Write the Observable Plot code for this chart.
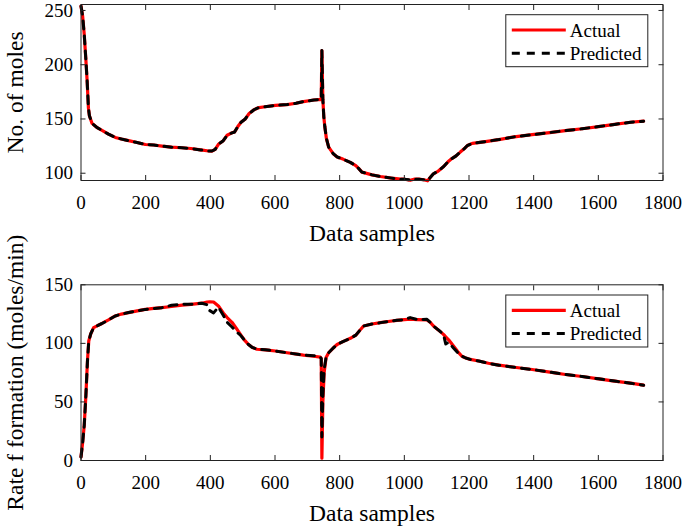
<!DOCTYPE html>
<html>
<head>
<meta charset="utf-8">
<script src="https://cdn.jsdelivr.net/npm/d3@7"></script>
<script src="https://cdn.jsdelivr.net/npm/@observablehq/plot@0.6"></script>
<style>
  body { margin: 0; background: #fff; }
  #chart { position: relative; width: 685px; height: 526px; font-family: "Liberation Serif", "Times New Roman", serif; }
  .panel { position: absolute; left: 0; }
  .panel svg { overflow: visible; }
</style>
</head>
<body>
<div id="chart"></div>
<script>
// ---------- DATA ----------
const xTicks = [0, 200, 400, 600, 800, 1000, 1200, 1400, 1600, 1800];
const seriesNames = ["Actual", "Predicted"];
const xLabel = "Data samples";

// Panel 1: No. of moles
const molesLabel = "No. of moles";
const molesTicks = [100, 150, 200, 250];
const molesX = [0, 5, 10, 15, 19, 23, 26, 34, 50, 65, 85, 106, 125, 147, 170, 199, 225, 250, 280, 312, 340, 370, 395, 405, 415, 426, 440, 452, 465, 475, 485, 495, 508, 520, 535, 550, 575, 601, 637, 665, 688, 720, 743, 745, 748, 751, 754, 759, 766, 780, 792, 810, 833, 850, 860, 869, 900, 926, 960, 988, 1000, 1018, 1030, 1045, 1060, 1072, 1080, 1090, 1105, 1121, 1135, 1147, 1160, 1173, 1185, 1195, 1210, 1235, 1292, 1340, 1395, 1450, 1498, 1550, 1601, 1650, 1700, 1740];
const molesActual = [254, 245, 228, 205, 185, 160, 153, 146, 142, 139.5, 136, 133, 131.5, 130, 128.5, 126.5, 126, 125, 124, 123.5, 122.8, 121.5, 120.5, 120.3, 122, 127, 130, 135, 137, 138, 143, 147, 150, 155, 158.5, 160.5, 161.5, 162.5, 163.3, 164.5, 166, 167.5, 168, 213, 168, 152, 143, 132, 124, 118, 115, 113, 110, 107, 104, 101, 98.5, 97, 95.5, 94.5, 94.5, 93.5, 94.5, 94.5, 94, 93, 96, 99.5, 102, 106, 110.5, 113.5, 116, 119.5, 122.5, 125.5, 127.5, 128.5, 131, 133.5, 135.5, 137.5, 139.3, 141, 143, 145, 147, 148];
const molesPredicted = [254, 245, 228, 205, 185, 160, 153, 146, 142, 139.5, 136, 133, 131.5, 130, 128.5, 126.5, 126, 125, 124, 123.5, 122.8, 121.5, 120.5, 120.5, 122, 127, 130, 135, 137, 138, 143, 147, 150, 155, 158.5, 160.5, 161.5, 162.5, 163.3, 164.5, 166, 167.5, 168, 213, 168, 152, 143, 132, 124, 118, 115, 113, 110, 107, 104, 101, 98.5, 97, 95.5, 94.5, 94.5, 93.8, 94.5, 94.5, 94, 93.5, 96, 99.5, 102, 106, 110.5, 113.5, 116, 119.5, 122.5, 125.5, 127.5, 128.5, 131, 133.5, 135.5, 137.5, 139.3, 141, 143, 145, 147, 148];

// Panel 2: Rate f formation
const rateLabel = "Rate f formation (moles/min)";
const rateTicks = [0, 50, 100, 150];
const rateX = [0, 5, 10, 15, 20, 24, 30, 39, 50, 65, 85, 106, 125, 147, 170, 199, 225, 250, 280, 312, 340, 374, 390, 398, 410, 425, 440, 452, 467, 480, 493, 505, 518, 530, 544, 570, 601, 637, 688, 720, 740, 743, 745, 748, 752, 758, 766, 780, 792, 810, 833, 850, 862, 874, 900, 926, 950, 977, 1000, 1018, 1040, 1070, 1080, 1090, 1105, 1121, 1128, 1137, 1152, 1165, 1178, 1190, 1204, 1230, 1260, 1292, 1340, 1395, 1450, 1498, 1550, 1601, 1650, 1700, 1740];
const rateActual = [3, 15, 30, 55, 85, 102, 108, 113.4, 115, 117, 120, 123.4, 125, 126.3, 127.5, 129, 129.8, 130.5, 131.5, 132.6, 133.3, 134.3, 135.3, 135.5, 135.3, 132, 126, 122, 118, 113, 107.7, 103, 99, 96.5, 95, 94.5, 93.5, 92, 90, 89, 88.3, 87, 2, 50, 75, 88, 92, 96, 99, 101.5, 104.3, 107, 111, 114.8, 116.5, 117.7, 118.7, 119.7, 120.2, 120.6, 120.3, 120, 118, 114.8, 111.5, 107.7, 105.5, 103, 97.7, 93, 89, 87.5, 86.3, 84.9, 83, 81.4, 79.6, 77.7, 75.5, 73.4, 71.7, 69.7, 67.8, 66, 64.3];
const ratePredicted = [3, 15, 30, 55, 85, 102, 108, 113.4, 115, 117, 120, 123.4, 125, 126.3, 127.5, 129, 129.8, 130.5, 132.5, 133.5, 133.3, 134.3, 133, 128, 126, 131, 124, 118, 114, 110, 107, 103, 99, 96.5, 95, 94.5, 93.5, 92, 90, 89.5, 88.5, 87, 20, 55, 78, 88, 92, 96, 99, 101.5, 104.3, 107, 111, 114.8, 116.5, 117.7, 118.7, 119.7, 120.2, 122, 120.3, 120.5, 118, 114.8, 111.5, 107.7, 99.5, 101, 96, 92, 89, 87.5, 86.3, 84.9, 83, 81.4, 79.6, 77.7, 75.5, 73.4, 71.7, 69.7, 67.8, 66, 64.3];

// ---------- DRAW ----------
const W = 685;
const fontFamily = '"Liberation Serif", "Times New Roman", serif';
const plainNumber = d => String(d);

function panel({xs, actual, predicted, yDomain, yTicks, yLabel, top, height, marginTop, marginBottom}) {
  const act = xs.map((x, i) => ({x, y: actual[i]}));
  const pred = xs.map((x, i) => ({x, y: predicted[i]}));
  const plot = Plot.plot({
    width: W,
    height,
    marginTop,
    marginBottom,
    marginLeft: 80.5,
    marginRight: 22.5,
    style: {fontFamily, fontSize: "19px", background: "transparent", color: "#000"},
    x: {domain: [0, 1800], ticks: xTicks},
    y: {domain: yDomain, ticks: yTicks},
    marks: [
      Plot.line(act, {x: "x", y: "y", stroke: "#ff0000", strokeWidth: 3.2}),
      Plot.line(pred, {x: "x", y: "y", stroke: "#000", strokeWidth: 3, strokeDasharray: "8,7"}),
      Plot.frame({stroke: "#222", strokeWidth: 1}),
      Plot.axisX({anchor: "bottom", ticks: xTicks, tickSize: -5, tickPadding: 19.5, tickFormat: plainNumber, label: null, stroke: "#222", fontSize: 19}),
      Plot.axisX({anchor: "top", ticks: xTicks, tickSize: -5, tickFormat: () => "", label: null, stroke: "#222"}),
      Plot.axisY({anchor: "left", ticks: yTicks, tickSize: -5, tickPadding: 13, tickFormat: plainNumber, label: null, stroke: "#222", fontSize: 19}),
      Plot.axisY({anchor: "right", ticks: yTicks, tickSize: -5, tickFormat: () => "", label: null, stroke: "#222"}),
      Plot.text([yLabel], {text: d => d, frameAnchor: "left", textAnchor: "middle", lineAnchor: "middle", rotate: -90, dx: -66, fontSize: 23.5}),
      Plot.text([xLabel], {text: d => d, frameAnchor: "bottom", lineAnchor: "top", dy: 44, fontSize: 23.5})
    ]
  });
  // legend box inside the top-right corner of the frame
  const svg = d3.select(plot);
  const frameRight = W - 22.5;
  const bx = frameRight - 14.7 - 142, by = marginTop + 10.7;
  const g = svg.append("g").attr("font-family", fontFamily).attr("font-size", 19).attr("text-anchor", "start");
  g.append("rect").attr("x", bx).attr("y", by).attr("width", 142).attr("height", 52)
    .attr("fill", "#fff").attr("stroke", "#222").attr("stroke-width", 1);
  const styles = [
    {stroke: "#ff0000", dash: null, w: 3.2},
    {stroke: "#000", dash: "8,7", w: 3}
  ];
  seriesNames.forEach((name, i) => {
    const cy = by + 15.3 + i * 23.2;
    g.append("line").attr("x1", bx + 6).attr("x2", bx + 60).attr("y1", cy).attr("y2", cy)
      .attr("stroke", styles[i].stroke).attr("stroke-width", styles[i].w)
      .attr("stroke-dasharray", styles[i].dash);
    g.append("text").attr("x", bx + 64).attr("y", cy).attr("dy", "0.35em")
      .attr("text-anchor", "start").attr("fill", "#000").text(name);
  });
  const div = document.createElement("div");
  div.className = "panel";
  div.style.top = top + "px";
  div.appendChild(plot);
  document.getElementById("chart").appendChild(div);
}

panel({xs: molesX, actual: molesActual, predicted: molesPredicted, yDomain: [93.3, 255.5], yTicks: molesTicks,
  yLabel: molesLabel, top: 0, height: 262, marginTop: 4, marginBottom: 82});
panel({xs: rateX, actual: rateActual, predicted: ratePredicted, yDomain: [0, 150], yTicks: rateTicks,
  yLabel: rateLabel, top: 262, height: 264, marginTop: 22.3, marginBottom: 66});
</script>
</body>
</html>
